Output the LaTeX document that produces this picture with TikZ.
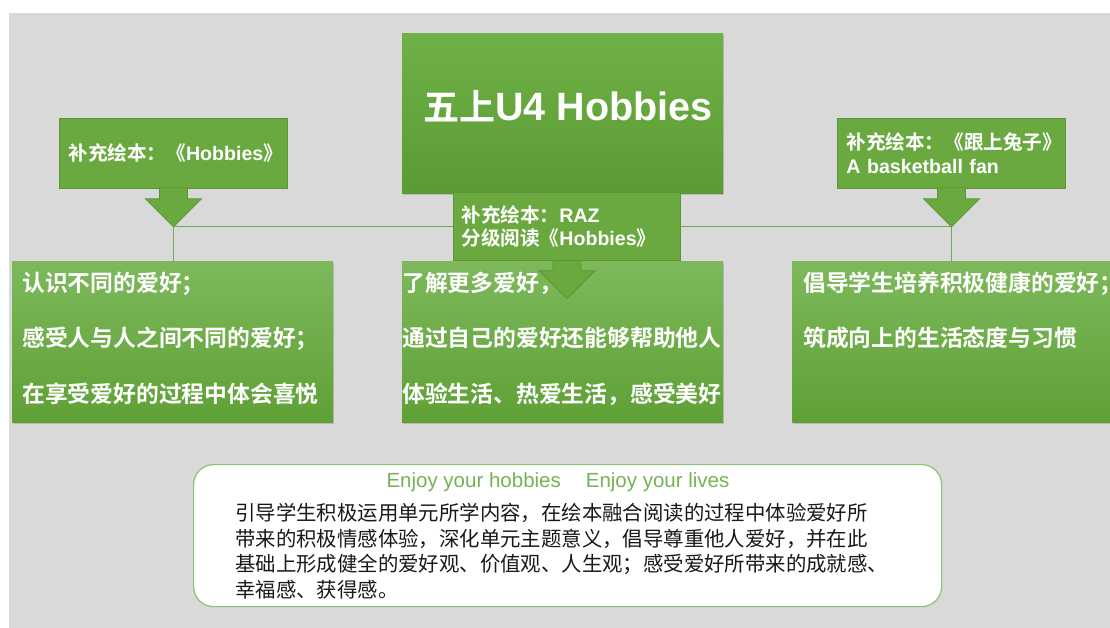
\documentclass[tikz,border=0pt]{standalone}
\usepackage{fontspec}
\setmainfont{Noto Sans CJK SC}[BoldFont={Noto Sans CJK SC Bold}]
\newfontfamily\lat{Liberation Sans}
\usetikzlibrary{shadows, backgrounds}

\definecolor{bggray}{HTML}{D9D9D9}
\definecolor{linkgreen}{HTML}{70AD47}
\definecolor{callfill}{HTML}{6AA93F}
\definecolor{calldraw}{HTML}{5B9535}
\definecolor{titletop}{HTML}{6FB047}
\definecolor{titlebot}{HTML}{5A9B33}
\definecolor{goaltop}{HTML}{7DB95B}
\definecolor{goalbot}{HTML}{5FA036}
\definecolor{noteline}{HTML}{8DC26F}
\definecolor{mottogreen}{HTML}{76B256}

\begin{document}
\begin{tikzpicture}[
    x=1pt, y=-1pt,
    link/.style={draw=linkgreen, line width=1.3pt},
    callbox/.style={fill=callfill, draw=calldraw, line width=0.8pt, anchor=north west,
        inner xsep=9pt, text width=210pt, minimum height=70pt, align=left, text=white,
        font=\fontsize{19.6}{23.5}\selectfont\bfseries},
    callarrow/.style={fill=callfill, draw=calldraw, line width=0.8pt},
    titlebox/.style={anchor=north west, minimum width=321pt, minimum height=160pt,
        top color=titletop, bottom color=titlebot, text=white,
        drop shadow={opacity=0.35, shadow xshift=1pt, shadow yshift=-2pt}},
    goalbox/.style={anchor=north west, minimum width=321pt, minimum height=161pt,
        inner xsep=10pt, text width=301pt, text depth=120.7pt, align=left, text=white,
        top color=goaltop, bottom color=goalbot,
        drop shadow={opacity=0.35, shadow xshift=1pt, shadow yshift=-2pt},
        font=\fontsize{22.8}{55.5}\selectfont\bfseries},
    notebox/.style={anchor=north west, minimum width=748pt, minimum height=142pt,
        rounded corners=20pt, fill=white, draw=noteline, line width=1.2pt},
    motto/.style={text=mottogreen, font=\lat\fontsize{20.5}{24}\selectfont},
    notetext/.style={anchor=base west, align=left, inner sep=0pt, text=black!90,
        font=\fontsize{20.4}{25.5}\selectfont}
]

    \useasboundingbox (0,0) rectangle (1110,628);

    % === 1. Unit title ===
    \node[titlebox] (title) at (402,33)
        {\hspace*{10pt}\raisebox{15pt}{\bfseries\fontsize{36}{40}\selectfont 五上{\lat\fontsize{39.5}{40}\selectfont U4 Hobbies}}};

    % === 2. Picture books ===
    \node[callbox] (hobbook) at (59,118) {补充绘本：《{\lat Hobbies}》};
    \draw[callarrow] (hobbook.south) ++(-14,-1) -- ++(0,11) -- ++(-14,0)
        -- ++(28,28) coordinate (hobtip) -- ++(28,-28) -- ++(-14,0) -- ++(0,-11) -- cycle;

    \node[callbox] (rabbit) at (837,118) {补充绘本：《跟上兔子》\\{\lat A basketball fan}};
    \draw[callarrow] (rabbit.south) ++(-14,-1) -- ++(0,11) -- ++(-14,0)
        -- ++(28,28) coordinate (rabtip) -- ++(28,-28) -- ++(-14,0) -- ++(0,-11) -- cycle;

    \node[callbox, inner xsep=8pt, text width=211pt, minimum height=68pt] (raz) at (453,192)
        {补充绘本：{\lat RAZ}\\分级阅读《{\lat Hobbies}》};

    % links behind the boxes
    \begin{scope}[on background layer]
        \fill[bggray] (9,13) rectangle (1110,628);
        \draw[link] (hobtip) -- (rabtip);
        \draw[link] (hobtip) -- (hobtip |- 0,261);
        \draw[link] (rabtip) -- (rabtip |- 0,261);
    \end{scope}

    % === 3. Goals ===
    \node[goalbox] (know) at (12,261)
        {认识不同的爱好；\\感受人与人之间不同的爱好；\\在享受爱好的过程中体会喜悦};

    \node[goalbox, inner xsep=0pt, text width=321pt,
        path picture={
            \draw[callarrow] (raz.south) ++(-14,-1) -- ++(0,11) -- ++(-14,0)
                -- ++(28,28) -- ++(28,-28) -- ++(-14,0) -- ++(0,-11) -- cycle;
        }] (share) at (402,261)
        {了解更多爱好，\\通过自己的爱好还能够帮助他人\\体验生活、热爱生活，感受美好};

    \node[goalbox, minimum width=323pt, inner xsep=11pt] (habit) at (792,261)
        {倡导学生培养积极健康的爱好；\\筑成向上的生活态度与习惯\\\mbox{}};

    % === 4. Summary ===
    \node[notebox] (note) at (193,464) {};
    \node[motto] (mottoline) at (558,482) {Enjoy your hobbies\hspace{25pt}Enjoy your lives};
    \node[notetext] (aim) at (235,597)
        {引导学生积极运用单元所学内容，在绘本融合阅读的过程中体验爱好所\\
         带来的积极情感体验，深化单元主题意义，倡导尊重他人爱好，并在此\\
         基础上形成健全的爱好观、价值观、人生观；感受爱好所带来的成就感、\\
         幸福感、获得感。};

\end{tikzpicture}
\end{document}
